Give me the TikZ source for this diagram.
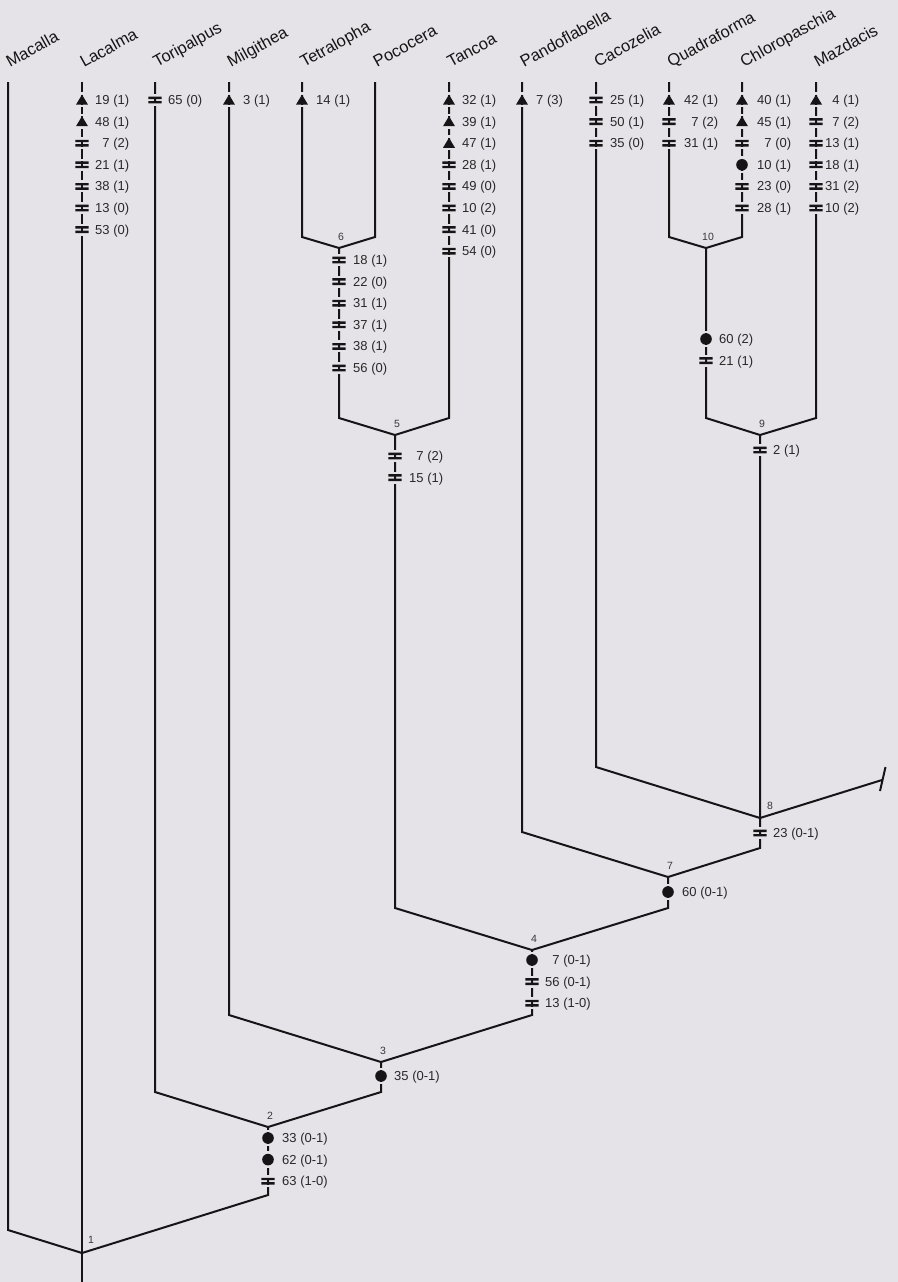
\documentclass[tikz,border=0pt]{standalone}
\usepackage{fontspec}
\setmainfont{Liberation Sans}
\usepackage{tikz}
\usetikzlibrary{positioning, calc}
\definecolor{paperbg}{RGB}{229, 227, 231}
\definecolor{treeink}{RGB}{22, 20, 22}
\newcommand{\pad}{\hphantom{0}}

\tikzset{
    apotri/.pic={\draw[paperbg, line width=3pt] (0,-8) -- (0,-5.4) (0,4.6) -- (0,7);
                 \fill[treeink] (0,-5.4) -- (6,4.6) -- (-6,4.6) -- cycle;},
    apobar/.pic={\draw[paperbg, line width=3pt] (0,-6) -- (0,-3.4) (0,3.4) -- (0,6);
                 \fill[treeink] (-6.6,-3.4) rectangle (6.6,-1) (-6.6,1) rectangle (6.6,3.4);},
    apodot/.pic={\draw[paperbg, line width=3pt] (0,-8.4) -- (0,-5.8) (0,5.8) -- (0,8.4);
                 \fill[treeink] (0,0) circle (5.8pt);}
}

\begin{document}
\begin{tikzpicture}[x=1pt, y=-1pt,
    branch/.style={draw=treeink, line width=2pt},
    taxon/.style={anchor=base west, rotate=29, inner sep=0pt, text=treeink, font=\fontsize{16.5}{18}\selectfont},
    chr/.style={anchor=base west, inner sep=0pt, text=treeink!92, font=\fontsize{13}{15}\selectfont},
    nodenum/.style={inner sep=0pt, text=treeink!85, font=\fontsize{10.5}{12}\selectfont}]

    \useasboundingbox (0,0) rectangle (897,1282);
    \fill[paperbg] (-3,-3) rectangle (900,1285);

    \foreach \nm/\x in {Macalla/8, Lacalma/82, Toripalpus/155, Milgithea/229, Tetralopha/302, Pococera/375,
                        Tancoa/449, Pandoflabella/522, Cacozelia/596, Quadraforma/669, Chloropaschia/742, Mazdacis/816} {
        \coordinate (\nm) at (\x,82);
        \node[taxon] (\nm-lbl) at (\x+2,68) {\nm};
    }

    \coordinate (n1) at (82,1253);
    \coordinate (n2) at (268,1127);
    \coordinate (n3) at (381,1062);
    \coordinate (n4) at (532,950);
    \coordinate (n5) at (395,435);
    \coordinate (n6) at (339,248);
    \coordinate (n7) at (668,877);
    \coordinate (n8) at (760,818);
    \coordinate (n9) at (760,435);
    \coordinate (n10) at (706,248);
    \coordinate (root) at (82,1282);
    \coordinate (out8) at (882,780);
    \coordinate (tick-a) at (885.5,767);
    \coordinate (tick-b) at (880,791);

    \foreach \nm/\x/\y in {Macalla/8/1230, Toripalpus/155/1092, Milgithea/229/1015, Tetralopha/302/237,
                           Pococera/375/237, Tancoa/449/418, Pandoflabella/522/832, Cacozelia/596/767,
                           Quadraforma/669/237, Chloropaschia/742/237, Mazdacis/816/418,
                           n2/268/1195, n3/381/1092, n4/532/1015, n5/395/908, n6/339/418,
                           n7/668/908, n8/760/848, n9/760/800, n10/706/418}
        \coordinate (\nm-end) at (\x,\y);

    \foreach \a/\p/\b in {Tetralopha/n6/Pococera, n6/n5/Tancoa, Quadraforma/n10/Chloropaschia, n10/n9/Mazdacis,
                          Cacozelia/n8/n9, Pandoflabella/n7/n8, n5/n4/n7, Milgithea/n3/n4, Toripalpus/n2/n3, Macalla/n1/n2}
        \draw[branch] (\a) -- (\a-end) -- (\p) -- (\b-end) -- (\b);
    \draw[branch] (Lacalma) -- (n1) -- (root);
    \draw[branch] (n8) -- (out8);
    \draw[branch] (tick-a) -- (tick-b);

    \foreach \x/\ytop/\tx/\lst in {
        82/100/13/{apotri/19 (1), apotri/48 (1), apobar/\pad7 (2), apobar/21 (1), apobar/38 (1), apobar/13 (0), apobar/53 (0)},
        155/100/13/{apobar/65 (0)},
        229/100/14/{apotri/3 (1)},
        302/100/14/{apotri/14 (1)},
        449/100/13/{apotri/32 (1), apotri/39 (1), apotri/47 (1), apobar/28 (1), apobar/49 (0), apobar/10 (2), apobar/41 (0), apobar/54 (0)},
        522/100/14/{apotri/7 (3)},
        596/100/14/{apobar/25 (1), apobar/50 (1), apobar/35 (0)},
        669/100/15/{apotri/42 (1), apobar/\pad7 (2), apobar/31 (1)},
        742/100/15/{apotri/40 (1), apotri/45 (1), apobar/\pad7 (0), apodot/10 (1), apobar/23 (0), apobar/28 (1)},
        816/100/9/{apotri/\pad4 (1), apobar/\pad7 (2), apobar/13 (1), apobar/18 (1), apobar/31 (2), apobar/10 (2)},
        339/260/14/{apobar/18 (1), apobar/22 (0), apobar/31 (1), apobar/37 (1), apobar/38 (1), apobar/56 (0)},
        395/456/14/{apobar/\pad7 (2), apobar/15 (1)},
        706/339/13/{apodot/60 (2), apobar/21 (1)},
        760/450/13/{apobar/2 (1)},
        760/833/13/{apobar/23 (0-1)},
        668/892/14/{apodot/60 (0-1)},
        532/960/13/{apodot/\pad7 (0-1), apobar/56 (0-1), apobar/13 (1-0)},
        381/1076/13/{apodot/35 (0-1)},
        268/1138/14/{apodot/33 (0-1), apodot/62 (0-1), apobar/63 (1-0)}} {
        \foreach \k/\t [count=\i] in \lst {
            \pic at (\x, \ytop+21.6*\i-21.6) {\k};
            \node[chr] (c\x-\i) at (\x+\tx, \ytop+21.6*\i-17.1) {\t};
        }
    }

    \foreach \n in {2,3,4,5,6,7,9,10}
        \node[nodenum, above=7pt of n\n, xshift=2pt] (l\n) {\n};
    \node[nodenum, above right=8pt and 7pt of n8] (l8) {8};
    \node[nodenum, above right=9pt and 6pt of n1] (l1) {1};
\end{tikzpicture}
\end{document}
